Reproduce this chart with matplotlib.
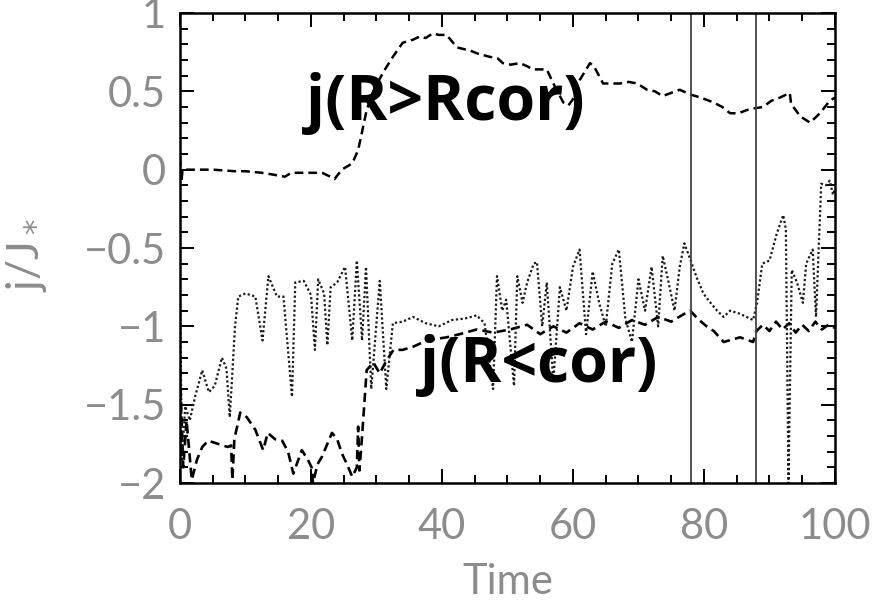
import matplotlib
matplotlib.use("Agg")
import matplotlib.pyplot as plt
from matplotlib.ticker import MultipleLocator

# angular momentum outside the corotation radius
t_out = [0, 0.2, 0.4, 2, 5, 8.4, 10, 12.5, 14, 16,
         17, 19, 21.7, 23.2, 23.6, 24.7, 26.3, 27.2, 28.5, 29.5,
         31, 32.5, 34, 35.6, 36.6, 37.5, 38.6, 39.5, 40.7, 41.5,
         42.3, 43.3, 44.3, 45.5, 47.3, 48.5, 49.3, 50.5, 51.9, 53,
         53.9, 55, 56, 57, 58.5, 59.3, 60, 61, 62.6, 63.2,
         64.6, 66, 67.2, 68.5, 69.8, 71.3, 72.5, 73.7, 75, 76.3,
         77.9, 79.5, 81.4, 82.8, 84, 85.3, 86.5, 87.5, 89, 90.3,
         91.6, 93.1, 93.3, 94.7, 96.2, 97.7, 99.2, 100]
j_out = [0.08, -0.08, 0.0, 0.0, 0.0, -0.01, -0.01, -0.02, -0.03, -0.045,
         -0.02, -0.02, -0.02, -0.05, -0.06, 0.0, 0.04, 0.125, 0.38, 0.5,
         0.62, 0.72, 0.81, 0.83, 0.85, 0.84, 0.87, 0.86, 0.86, 0.82,
         0.78, 0.77, 0.76, 0.74, 0.72, 0.71, 0.68, 0.67, 0.68, 0.66,
         0.64, 0.64, 0.64, 0.55, 0.43, 0.41, 0.45, 0.57, 0.68, 0.66,
         0.55, 0.55, 0.55, 0.56, 0.55, 0.51, 0.5, 0.47, 0.49, 0.51,
         0.48, 0.46, 0.43, 0.40, 0.36, 0.36, 0.38, 0.39, 0.40, 0.44,
         0.46, 0.49, 0.42, 0.34, 0.30, 0.36, 0.44, 0.46]

# angular momentum inside corotation
t_in = [0, 0.5, 1.0, 1.8, 2.6, 3.4, 4.3, 5.8, 7.3, 7.8,
        8.0, 8.3, 9.2, 10.2, 11.5, 12.7, 13.4, 14.5, 15.6, 16.5,
        17.3, 18.6, 19.5, 20.1, 20.3, 21.0, 21.7, 23.2, 24.0, 24.7,
        25.5, 26.3, 27.0, 27.2, 27.4, 27.8, 28.5, 29.5, 30.5, 31.5,
        32.6, 34, 35.6, 37.7, 40.7, 42.7, 45.3, 47.8, 50.4, 53,
        55, 57, 59, 61, 63, 65, 67, 69, 71, 73,
        75, 77, 77.9, 79, 80.4, 81.5, 83, 85.5, 87.5, 88,
        89, 90, 91, 92, 93, 94, 95, 96, 97, 98,
        99, 100]
j_in = [-1.3, -1.9, -1.6, -1.98, -1.85, -1.77, -1.73, -1.75, -1.77, -1.76,
        -1.98, -1.72, -1.55, -1.58, -1.66, -1.79, -1.68, -1.72, -1.73, -1.8,
        -1.94, -1.79, -1.85, -1.9, -2.0, -1.88, -1.83, -1.68, -1.72, -1.81,
        -1.88, -1.96, -1.9, -1.64, -1.92, -1.7, -1.28, -1.23, -1.3, -1.22,
        -1.15, -1.15, -1.13, -1.09, -1.07, -1.05, -1.02, -1.04, -1.02, -0.99,
        -1.05, -1.0, -1.04, -0.98, -1.02, -0.97, -1.01, -0.96, -0.99, -0.94,
        -0.97, -0.92, -0.9, -0.95, -1.0, -1.03, -1.1, -1.07, -1.1, -1.03,
        -0.99, -1.03, -0.97, -1.02, -0.98, -1.04, -0.99, -1.03, -0.97, -1.02,
        -0.99, -1.01]

# third, noisier component (dotted)
t_dot = [0, 0.3, 0.8, 1.5, 2.3, 3.4, 4.4, 5.3, 6.4, 7.1,
         7.6, 8.4, 8.9, 10, 11.5, 12.6, 13.5, 14.8, 15.8, 17.1,
         17.6, 18.9, 20.0, 20.6, 21.1, 22, 22.5, 23, 24, 25.2,
         26.3, 27, 27.8, 28.4, 29.2, 30.5, 31.5, 32.5, 34, 35.6,
         37.5, 39.5, 41.5, 43.5, 45.3, 46.5, 47.8, 48.4, 49.2, 49.8,
         51, 51.5, 52.3, 53, 54, 54.5, 55.3, 56, 57, 58,
         59, 60, 61, 62, 63, 64, 65, 66, 67, 68,
         69, 70, 71, 72, 73, 73.7, 74.5, 75.5, 76.3, 77,
         77.8, 78.9, 79.9, 81, 82, 83, 84, 85.5, 86.5, 87.5,
         88.1, 88.9, 90, 91.1, 92.1, 92.5, 92.9, 93.4, 94.2, 95.1,
         95.6, 96.6, 97.1, 97.9, 98.6, 99.2, 99.7, 100]
j_dot = [-0.8, -1.85, -1.51, -1.6, -1.45, -1.28, -1.42, -1.38, -1.2, -1.27,
         -1.58, -1.0, -0.81, -0.79, -0.81, -1.09, -0.68, -0.81, -0.81, -1.45,
         -0.72, -0.71, -0.8, -1.15, -0.7, -0.79, -1.12, -0.75, -0.72, -0.62,
         -1.09, -0.58, -1.09, -0.62, -1.4, -0.71, -1.4, -0.98, -0.97, -0.94,
         -0.98, -1.0, -0.96, -0.95, -0.93, -0.98, -1.4, -0.68, -0.9, -0.83,
         -1.38, -0.68, -0.85, -0.72, -0.6, -0.59, -1.0, -0.72, -1.35, -0.75,
         -0.9, -0.62, -0.51, -1.05, -0.65, -0.85, -1.0, -0.6, -0.51, -0.95,
         -1.1, -0.7, -0.9, -0.62, -1.0, -0.55, -0.7, -0.9, -0.62, -0.47,
         -0.56, -0.69, -0.79, -0.85, -0.9, -0.94, -0.9, -0.92, -0.94, -0.96,
         -0.85, -0.6, -0.58, -0.41, -0.29, -0.38, -2.0, -0.64, -0.72, -0.85,
         -0.6, -0.51, -0.94, -0.09, -0.1, -0.07, -0.16, -0.12]

marker_times = [78, 88]

grey = "#8c8c8c"
tick_font = {"family": "Lato", "weight": "normal", "size": 30}

fig = plt.figure(figsize=(8.78, 6.01), dpi=100)
ax = fig.add_axes([0.205, 0.1963, 0.746, 0.7821])

ax.plot(t_out, j_out, color="black", lw=1.8, linestyle=(0, (3.5, 2)))
ax.plot(t_in, j_in, color="black", lw=1.9, linestyle=(0, (3.5, 2)))
ax.plot(t_dot, j_dot, color="#1a1a1a", lw=1.6, linestyle=(0, (1, 1.1)))
for tm in marker_times:
    ax.axvline(tm, color="#444444", lw=1.3)

ax.set_xlim(0, 100)
ax.set_ylim(-2, 1)
ax.xaxis.set_major_locator(MultipleLocator(20))
ax.xaxis.set_minor_locator(MultipleLocator(5))
ax.yaxis.set_minor_locator(MultipleLocator(0.1))
ax.set_yticks([-2, -1.5, -1, -0.5, 0, 0.5, 1])
ax.set_yticklabels(["\u22122", "\u22121.5", "\u22121", "\u22120.5", "0", "0.5", "1"])

ax.tick_params(which="both", direction="in", top=True, right=True,
               width=1.4, colors="black")
ax.tick_params(which="major", length=10)
ax.tick_params(which="minor", length=5.5)
ax.tick_params(axis="x", pad=18)
ax.tick_params(axis="y", pad=10)
for lbl in ax.get_xticklabels() + ax.get_yticklabels():
    lbl.set_fontproperties(tick_font)
    lbl.set_color(grey)
for s in ax.spines.values():
    s.set_linewidth(1.8)

ax.set_xlabel("Time", color=grey, labelpad=12, **tick_font)
ax.set_ylabel(r"j/J$_*$", color=grey, fontsize=32, family="Lato")
ax.yaxis.set_label_coords(-0.2, 0.485)

ax.text(40.5, 0.42, "j(R>Rcor)", fontsize=45, fontweight="bold",
        family="Open Sans", ha="center", va="center", color="black")
ax.text(54.8, -1.25, "j(R<cor)", fontsize=45, fontweight="bold",
        family="Open Sans", ha="center", va="center", color="black")

fig.savefig("out.png", dpi=100)
